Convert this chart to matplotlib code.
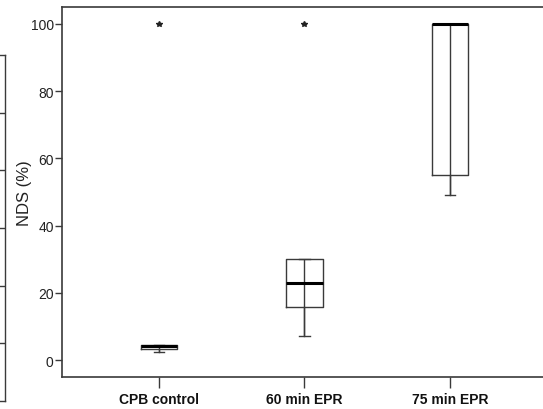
import matplotlib
matplotlib.use('Agg')
import matplotlib.pyplot as plt

plt.rcParams['font.family'] = ['Liberation Sans', 'DejaVu Sans']

# box summary per group
groups = ['CPB control', '60 min EPR', '75 min EPR']
whis_lo = [2.3, 7.2, 49.2]
q1 = [3.2, 15.8, 55.0]
median = [4.3, 23.0, 100.0]
q3 = [4.6, 30.0, 100.0]
whis_hi = [4.6, 30.0, 100.0]
outliers = [[100.0], [100.0], []]
yticks = [0, 20, 40, 60, 80, 100]

table_rows = 6  # rows of the neighbouring panel that shows at the left edge

line_col = '#3a3a3a'

fig = plt.figure(figsize=(5.43, 4.10), dpi=100)
ax = fig.add_axes([0.1142, 0.078, 0.893, 0.9024])

pos = list(range(1, len(groups) + 1))
stats = []
for i in range(len(groups)):
    stats.append(dict(med=median[i], q1=q1[i], q3=q3[i],
                      whislo=whis_lo[i], whishi=whis_hi[i], fliers=outliers[i]))

# whisker line runs straight through the box
ax.vlines(pos, whis_lo, whis_hi, color=line_col, lw=1.0, zorder=1)
ax.bxp(stats, positions=pos, widths=0.25, capwidths=0.07, patch_artist=False,
       boxprops=dict(color=line_col, lw=1.0),
       whiskerprops=dict(color=line_col, lw=1.0),
       capprops=dict(color=line_col, lw=1.0),
       medianprops=dict(color='black', lw=2.2),
       flierprops=dict(marker='*', markersize=4, markerfacecolor='#222222',
                       markeredgecolor='#222222', linestyle='none'))

ax.set_xlim(1 - 0.667, len(groups) + 0.667)
ax.set_ylim(-5, 105)
ax.set_yticks(yticks)
ax.set_yticklabels([str(t) for t in yticks], fontsize=10, color='#222222')
ax.set_xticks(pos)
ax.set_xticklabels(groups, fontsize=10, fontweight='bold', color='#111111')
ax.set_ylabel('NDS (%)', fontsize=12, color='#222222')
ax.yaxis.set_label_coords(-0.062, 0.5)
ax.tick_params(axis='y', direction='out', length=5, width=1.0, color=line_col, pad=1)
ax.tick_params(axis='x', direction='out', length=8, width=1.0, color=line_col, pad=3)
for s in ax.spines.values():
    s.set_color(line_col)
    s.set_linewidth(1.2)

# edge of the neighbouring panel
ax_tab = fig.add_axes([-0.05, 0.0195, 0.05 + 5 / 543, 0.844])
ax_tab.set_xlim(0, 1)
ax_tab.set_ylim(0, table_rows)
for r in range(1, table_rows):
    ax_tab.axhline(r, color=line_col, lw=1.0)
ax_tab.set_xticks([])
ax_tab.set_yticks([])
ax_tab.spines['left'].set_visible(False)
for k in ['top', 'bottom', 'right']:
    ax_tab.spines[k].set_color(line_col)
    ax_tab.spines[k].set_linewidth(1.0)

fig.savefig('out.png', dpi=100)
